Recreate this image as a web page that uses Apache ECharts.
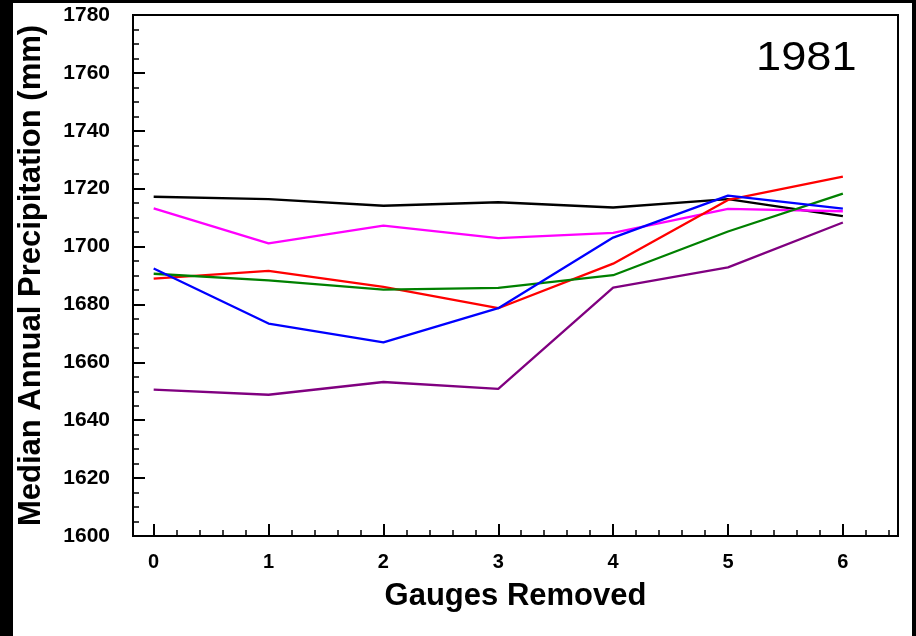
<!DOCTYPE html>
<html>
<head>
<meta charset="utf-8">
<script src="https://cdn.jsdelivr.net/npm/echarts@6/dist/echarts.min.js"></script>
<style>
  html, body { margin: 0; padding: 0; background: #000; }
  #chart { width: 916px; height: 636px; }
</style>
</head>
<body>
<div id="chart"></div>
<script>
// ---- data ----
var gaugesRemoved = [0, 1, 2, 3, 4, 5, 6];
var seriesBlack   = [1717.2, 1716.4, 1714.1, 1715.3, 1713.5, 1716.4, 1710.5];
var seriesMagenta = [1713.2, 1701.1, 1707.2, 1702.9, 1704.7, 1713.0, 1712.2];
var seriesRed     = [1688.9, 1691.6, 1686.1, 1678.7, 1694.1, 1716.1, 1724.2];
var seriesGreen   = [1690.6, 1688.3, 1685.1, 1685.7, 1690.1, 1705.2, 1718.3];
var seriesPurple  = [1650.6, 1648.8, 1653.2, 1650.8, 1685.8, 1692.8, 1708.3];
var seriesBlue    = [1692.4, 1673.4, 1666.9, 1678.7, 1703.1, 1717.6, 1713.1];
var xMajorTicks = [0, 1, 2, 3, 4, 5, 6];
var xMinorTicks = [];
for (var i = 1; i <= 32; i++) { if (i % 5 !== 0) xMinorTicks.push(Math.round(i * 0.2 * 10) / 10); }
var yearLabel = '1981';
var xTitle = 'Gauges Removed';
var yTitle = 'Median Annual Precipitation (mm)';

function pairs(ys) { return gaugesRemoved.map(function (x, k) { return [x, ys[k]]; }); }

var FONT = '"Liberation Sans", Arial, Helvetica, sans-serif';
var chart = echarts.init(document.getElementById('chart'), null, { renderer: 'canvas' });

var lines = [
  { name: 'black', data: seriesBlack, color: '#000000' },
  { name: 'magenta', data: seriesMagenta, color: '#ff00ff' },
  { name: 'red', data: seriesRed, color: '#ff0000' },
  { name: 'green', data: seriesGreen, color: '#008000' },
  { name: 'purple', data: seriesPurple, color: '#800080' },
  { name: 'blue', data: seriesBlue, color: '#0000ff' }
];

var option = {
  backgroundColor: '#000000',
  animation: false,
  graphic: [
    { type: 'rect', z: -10, shape: { x: 13, y: 3, width: 899, height: 640 }, style: { fill: '#ffffff' }, silent: true },
    { type: 'text', z: 10, x: 756, y: 39, scaleX: 1.13, style: { text: yearLabel, font: 'normal 40px ' + FONT, fill: '#000' } }
  ],
  grid: {
    left: 133, right: 18, top: 15, bottom: 100,
    show: true, borderColor: '#000', borderWidth: 2, backgroundColor: 'transparent'
  },
  xAxis: [
    {
      type: 'value', min: -0.18, max: 6.48, position: 'bottom',
      name: xTitle, nameLocation: 'middle', nameGap: 45,
      nameTextStyle: { fontFamily: FONT, fontWeight: 'bold', fontSize: 31, color: '#000' },
      axisLine: { show: true, onZero: false, lineStyle: { color: '#000', width: 2 } },
      axisTick: { show: true, inside: true, length: 12, customValues: xMajorTicks, lineStyle: { color: '#000', width: 2 } },
      axisLabel: { show: true, customValues: xMajorTicks, margin: 16, fontFamily: FONT, fontWeight: 'bold', fontSize: 20, color: '#000' },
      splitLine: { show: false }
    },
    {
      type: 'value', min: -0.18, max: 6.48, position: 'bottom',
      axisLine: { show: false, onZero: false },
      axisTick: { show: true, inside: true, length: 6, customValues: xMinorTicks, lineStyle: { color: '#000', width: 1.5 } },
      axisLabel: { show: false },
      splitLine: { show: false }
    }
  ],
  yAxis: {
    type: 'value', min: 1600, max: 1780, interval: 20,
    name: yTitle, nameLocation: 'middle', nameGap: 86,
    nameTextStyle: { fontFamily: FONT, fontWeight: 'bold', fontSize: 31, color: '#000' },
    axisLine: { show: true, onZero: false, lineStyle: { color: '#000', width: 2 } },
    axisTick: { show: true, inside: true, length: 12, lineStyle: { color: '#000', width: 2 } },
    minorTick: { show: true, splitNumber: 4, length: 6, lineStyle: { color: '#000', width: 1.5 } },
    axisLabel: { margin: 23, fontFamily: FONT, fontWeight: 'bold', fontSize: 21, color: '#000',
      formatter: function (v) { return String(v); } },
    splitLine: { show: false },
    minorSplitLine: { show: false }
  },
  series: lines.map(function (l) {
    return {
      type: 'line', name: l.name, data: pairs(l.data), xAxisIndex: 0,
      showSymbol: false, symbol: 'none',
      lineStyle: { color: l.color, width: 2.3 }, itemStyle: { color: l.color }
    };
  })
};
chart.setOption(option);
</script>
</body>
</html>
